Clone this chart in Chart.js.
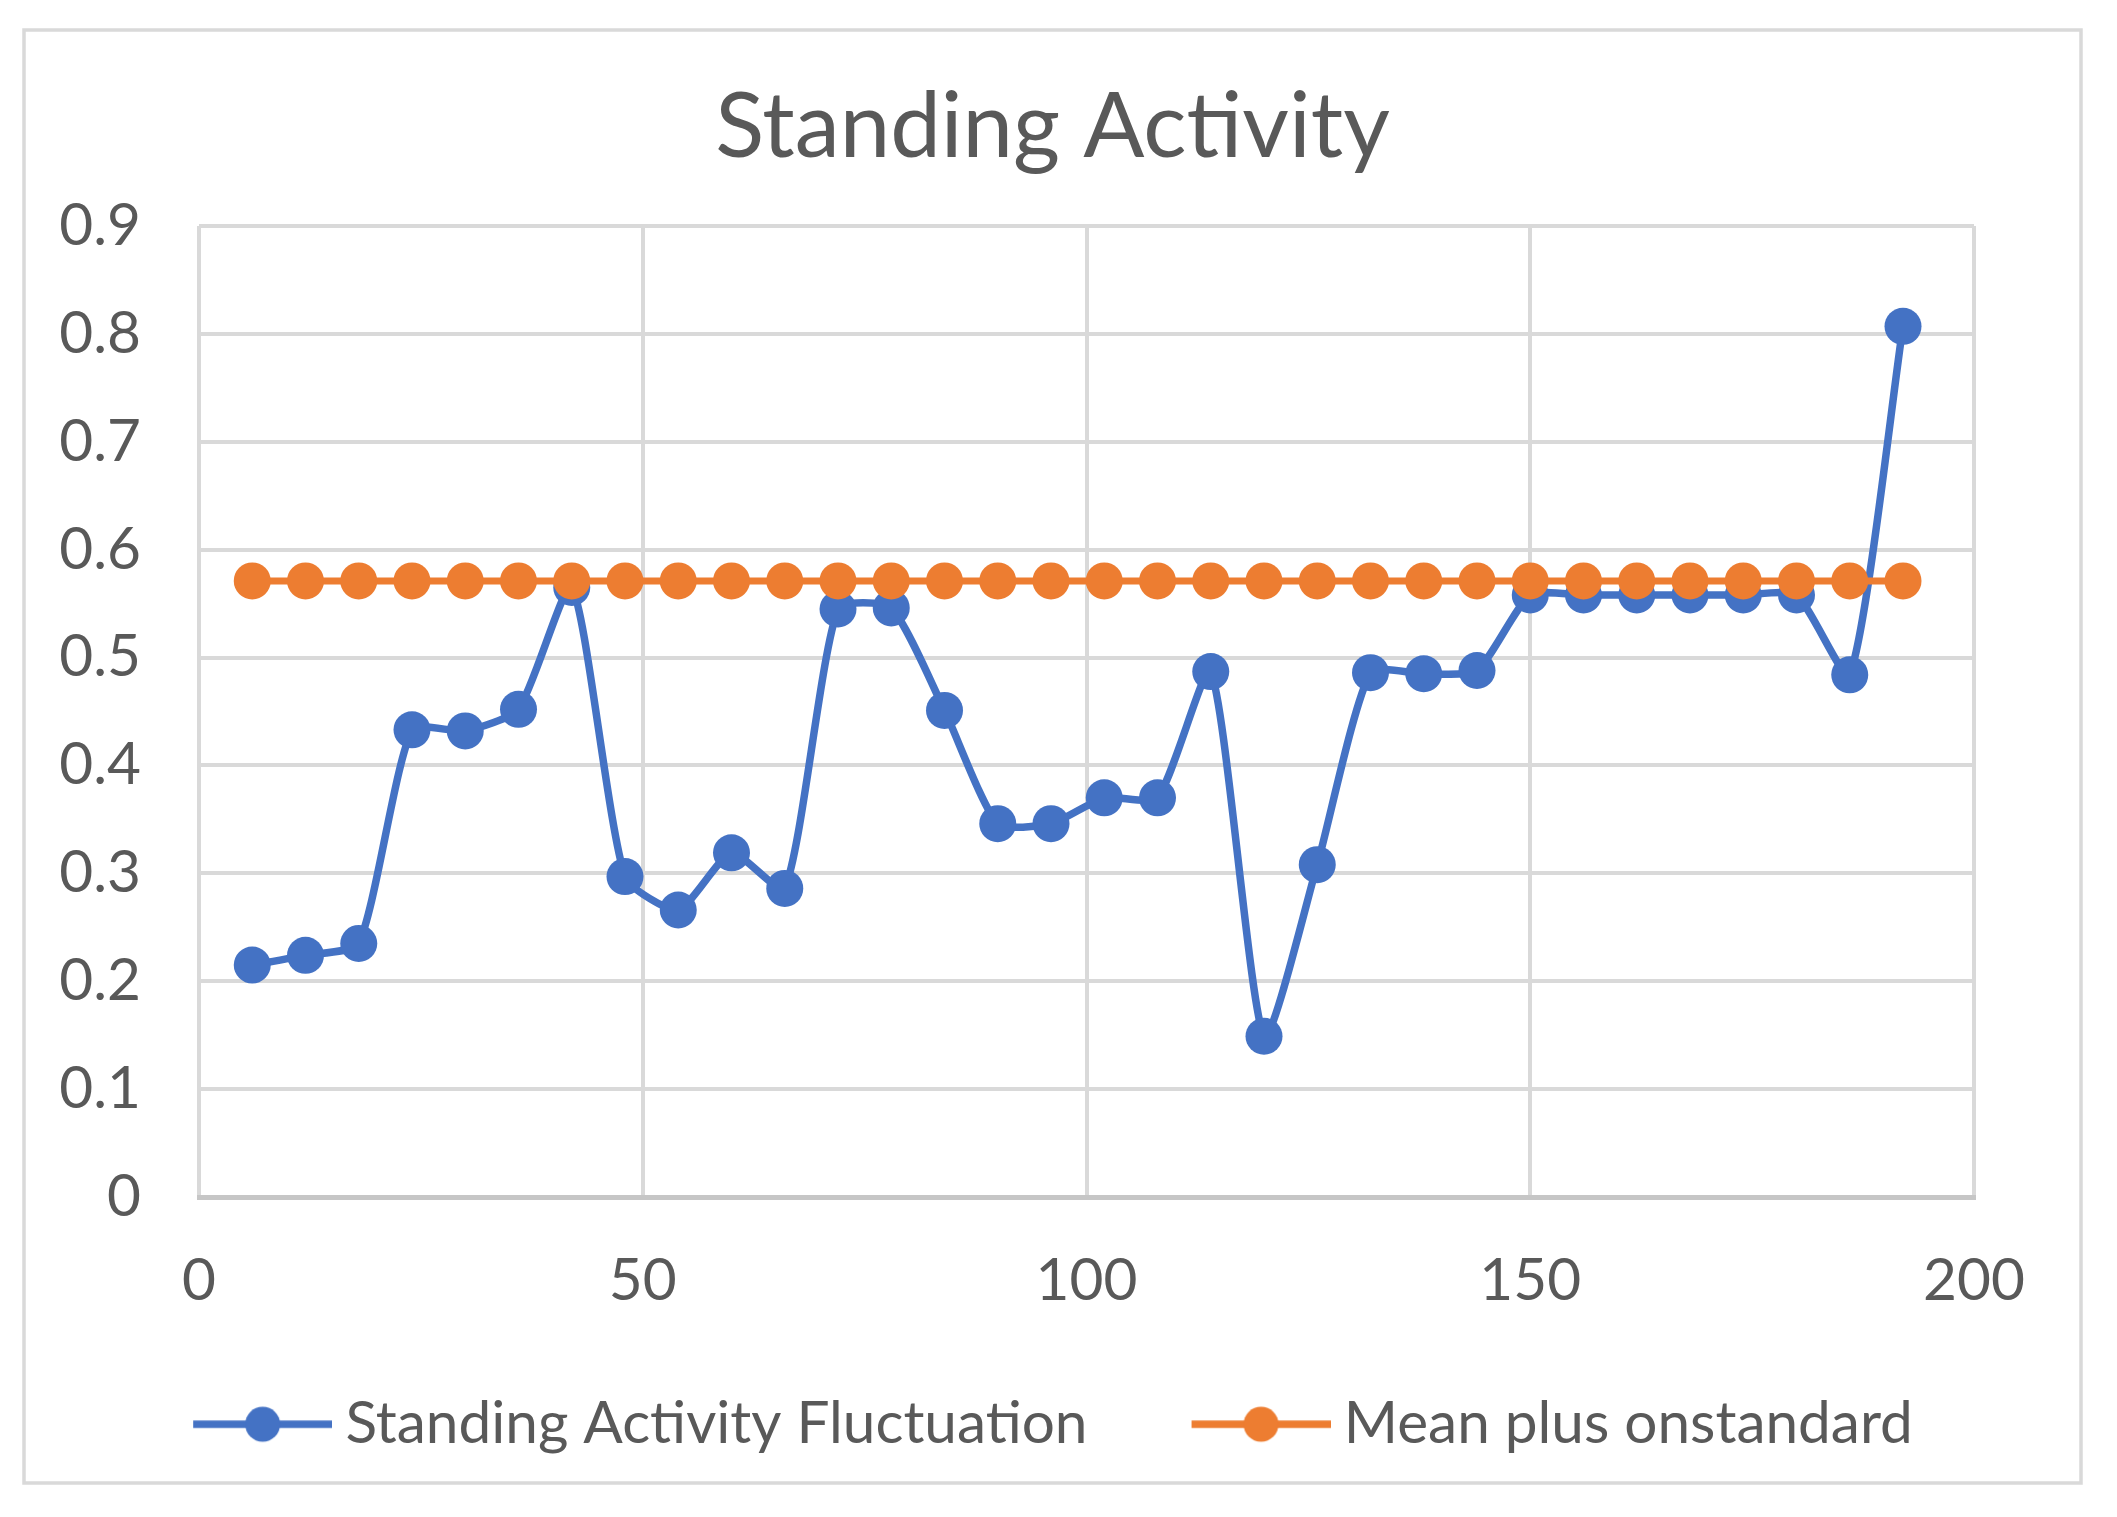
<!DOCTYPE html>
<html>
<head>
<meta charset="utf-8">
<script src="https://cdn.jsdelivr.net/npm/chart.js@4.4.1/dist/chart.umd.min.js"></script>
<style>
  html, body { margin: 0; padding: 0; background: #ffffff; overflow: hidden; }
  #wrap { width: 2117px; height: 1517px; position: relative; }
  canvas { display: block; }
</style>
</head>
<body>
<div id="wrap"><canvas id="chart" width="2117" height="1517" style="width:2117px;height:1517px"></canvas></div>
<script>
// ---- data ----
const chartTitle = 'Standing Activity';
const seriesNames = ['Standing Activity Fluctuation', 'Mean plus onstandard'];
const xValues = [6, 12, 18, 24, 30, 36, 42, 48, 54, 60, 66, 72, 78, 84, 90, 96,
                 102, 108, 114, 120, 126, 132, 138, 144, 150, 156, 162, 168, 174, 180, 186, 192];
const fluctuation = [0.215, 0.224, 0.235, 0.433, 0.432, 0.452, 0.565, 0.297, 0.266, 0.319, 0.286,
                     0.545, 0.546, 0.451, 0.346, 0.346, 0.370, 0.370, 0.487, 0.149, 0.308,
                     0.486, 0.485, 0.488, 0.558, 0.558, 0.558, 0.558, 0.558, 0.558, 0.484, 0.807];
const meanPlusOneStd = [0.571, 0.571, 0.571, 0.571, 0.571, 0.571, 0.571, 0.571, 0.571, 0.571, 0.571,
                        0.571, 0.571, 0.571, 0.571, 0.571, 0.571, 0.571, 0.571, 0.571, 0.571,
                        0.571, 0.571, 0.571, 0.571, 0.571, 0.571, 0.571, 0.571, 0.571, 0.571, 0.571];
const xTickLabels = ['0', '50', '100', '150', '200'];
const yTickLabels = ['0', '0.1', '0.2', '0.3', '0.4', '0.5', '0.6', '0.7', '0.8', '0.9'];

// ---- styles ----
const BLUE = '#4472C4';
const ORANGE = '#ED7D31';
const TEXT = '#595959';
const GRID = '#d9d9d9';

// legend marker: a line with a dot, with a leading transparent gap
function legendMarker(color) {
  const c = document.createElement('canvas');
  c.width = 180; c.height = 44;
  const g = c.getContext('2d');
  g.strokeStyle = color; g.lineWidth = 7.5;
  g.beginPath(); g.moveTo(41, 22); g.lineTo(180, 22); g.stroke();
  g.fillStyle = color;
  g.beginPath(); g.arc(110.5, 22, 17.5, 0, Math.PI * 2); g.fill();
  return c;
}
const markers = [legendMarker(BLUE), legendMarker(ORANGE)];

const toPoints = (ys) => xValues.map((x, i) => ({ x: x, y: ys[i] }));

const outerFrame = {
  id: 'outerFrame',
  beforeDraw(chart) {
    const ctx = chart.ctx;
    ctx.save();
    ctx.fillStyle = '#ffffff';
    ctx.fillRect(0, 0, chart.width, chart.height);
    ctx.strokeStyle = GRID;
    ctx.lineWidth = 3.5;
    ctx.strokeRect(24, 30, 2057, 1453);
    ctx.restore();
  }
};

const legendShift = {
  id: 'legendShift',
  afterLayout(chart) {
    if (chart.legend) { chart.legend.left -= 12; chart.legend.right -= 12; }
  }
};

Chart.defaults.font.family = 'Lato';
Chart.defaults.color = TEXT;

new Chart(document.getElementById('chart'), {
  type: 'line',
  data: {
    datasets: [
      {
        label: seriesNames[0],
        data: toPoints(fluctuation),
        borderColor: BLUE,
        backgroundColor: BLUE,
        pointBackgroundColor: BLUE,
        pointBorderColor: BLUE,
        borderWidth: 7.5,
        pointRadius: 18.5,
        pointBorderWidth: 0,
        tension: 0.2,
        order: 1
      },
      {
        label: seriesNames[1],
        data: toPoints(meanPlusOneStd),
        borderColor: ORANGE,
        backgroundColor: ORANGE,
        pointBackgroundColor: ORANGE,
        pointBorderColor: ORANGE,
        borderWidth: 7,
        pointRadius: 18.5,
        pointBorderWidth: 0,
        tension: 0,
        order: 0
      }
    ]
  },
  options: {
    responsive: false,
    animation: false,
    devicePixelRatio: 1,
    layout: { padding: { top: 40, left: 24, right: 36, bottom: 53.5 } },
    plugins: {
      tooltip: { enabled: false },
      title: {
        display: true,
        text: chartTitle,
        color: TEXT,
        font: { family: 'Lato', size: 90.5, weight: 'normal' },
        padding: { top: 33.7, bottom: 43.7 }
      },
      legend: {
        display: true,
        position: 'bottom',
        labels: {
          color: TEXT,
          font: { family: 'Lato', size: 58.5 },
          usePointStyle: true,
          pointStyleWidth: 148,
          padding: 79,
          generateLabels: (chart) => chart.data.datasets.map((ds, i) => ({
            text: ds.label,
            pointStyle: markers[i],
            fillStyle: ds.borderColor,
            strokeStyle: ds.borderColor,
            lineWidth: 0,
            hidden: false,
            datasetIndex: i,
            fontColor: TEXT
          }))
        }
      }
    },
    scales: {
      x: {
        type: 'linear',
        position: 'bottom',
        min: 0,
        max: 200,
        afterFit: (s) => { s.height = 119; },
        ticks: {
          stepSize: 50,
          padding: 49,
          color: TEXT,
          font: { family: 'Lato', size: 58.5 },
          maxRotation: 0,
          callback: (v) => xTickLabels[Math.round(v / 50)]
        },
        grid: { color: GRID, lineWidth: 4, drawTicks: false },
        border: { display: true, color: '#c6c6c6', width: 5 }
      },
      y: {
        type: 'linear',
        position: 'left',
        min: 0,
        max: 0.9,
        afterFit: (s) => { s.width = 175; },
        ticks: {
          stepSize: 0.1,
          padding: 58,
          color: TEXT,
          font: { family: 'Lato', size: 58.5 },
          callback: (v) => yTickLabels[Math.round(v * 10)]
        },
        grid: { color: GRID, lineWidth: 4, drawTicks: false },
        border: { display: false }
      },
      yRight: {
        type: 'linear',
        position: 'right',
        display: true,
        afterFit: (s) => { s.width = 107; },
        ticks: { display: false },
        grid: { display: false, drawTicks: false },
        border: { display: false }
      }
    }
  },
  plugins: [outerFrame, legendShift]
});
</script>
</body>
</html>
